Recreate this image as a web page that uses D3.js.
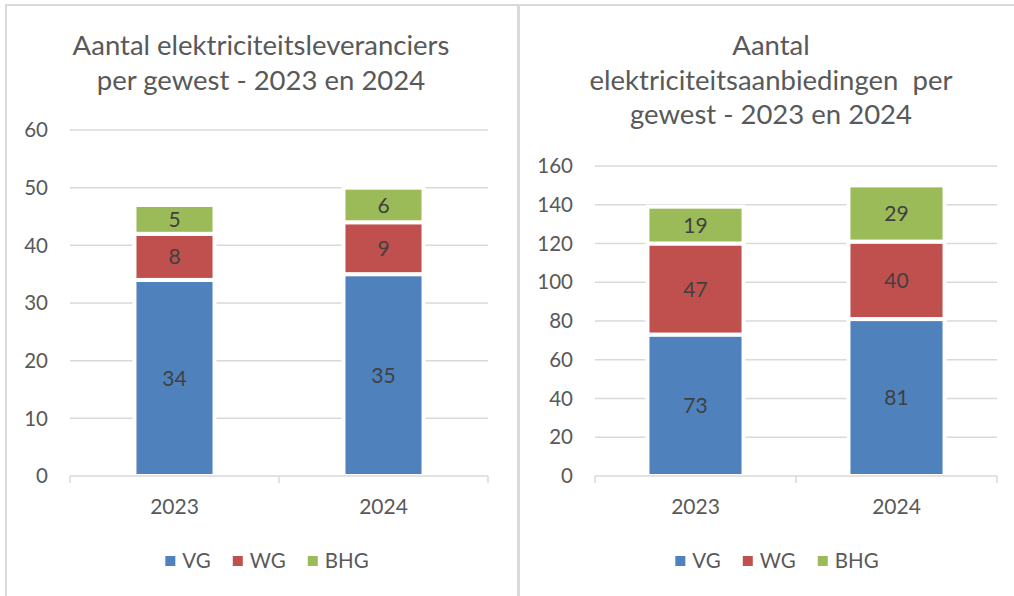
<html>
<head>
<meta charset="utf-8">
<script src="https://d3js.org/d3.v7.min.js"></script>
<style>
body { margin: 0; background: #fff; }
svg text { font-family: Lato, "Open Sans", sans-serif; }
</style>
</head>
<body>
<svg id="chart" width="1014" height="596"></svg>
<script>
// data
var years = ["2023", "2024"];
var regions = ["VG", "WG", "BHG"];
var colors = ["#4f81bd", "#c0504d", "#9bbb59"];

var supplierVG = [34, 35];
var supplierWG = [8, 9];
var supplierBHG = [5, 6];
var supplierTicks = [0, 10, 20, 30, 40, 50, 60];

var offerVG = [73, 81];
var offerWG = [47, 40];
var offerBHG = [19, 29];
var offerTicks = [0, 20, 40, 60, 80, 100, 120, 140, 160];

var svg = d3.select("#chart");

function drawPanel(p) {
  var g = svg.append("g");

  // panel border
  g.append("rect")
    .attr("x", p.box[0]).attr("y", p.box[1])
    .attr("width", p.box[2]).attr("height", p.box[3])
    .attr("fill", "#fff").attr("stroke", "#d9d9d9").attr("stroke-width", 2);

  // title
  g.append("text")
    .attr("x", p.titleX).attr("y", p.titleY)
    .attr("text-anchor", "middle")
    .attr("fill", "#595959")
    .style("font-size", "27.5px")
    .selectAll("tspan")
    .data(p.title)
    .enter()
    .append("tspan")
    .attr("x", p.titleX)
    .attr("dy", function(d, i) { return i == 0 ? 0 : 34.5; })
    .text(function(d) { return d; });

  var y = d3.scaleLinear().domain([0, p.max]).range([476, p.top]);
  var x = d3.scaleBand().domain(years).range([p.left, p.right]);
  var bw = x.bandwidth() * p.barFrac;

  // gridlines + tick labels
  g.selectAll(".grid")
    .data(p.ticks.filter(function(d) { return d > 0; }))
    .enter()
    .append("line")
    .attr("x1", p.left).attr("x2", p.right)
    .attr("y1", function(d) { return y(d); })
    .attr("y2", function(d) { return y(d); })
    .attr("stroke", "#d9d9d9").attr("stroke-width", 1.5);

  g.selectAll(".tick")
    .data(p.ticks)
    .enter()
    .append("text")
    .attr("x", p.left - 22)
    .attr("y", function(d) { return y(d); })
    .attr("dy", "0.35em")
    .attr("text-anchor", "end")
    .attr("fill", "#595959")
    .style("font-size", "20.5px")
    .text(function(d) { return d; });

  // stacked bars
  var rows = years.map(function(yr, i) {
    return { year: yr, VG: p.vg[i], WG: p.wg[i], BHG: p.bhg[i] };
  });
  var stack = d3.stack().keys(regions)(rows);

  stack.forEach(function(s, k) {
    var sg = g.append("g");
    sg.selectAll("rect")
      .data(s)
      .enter()
      .append("rect")
      .attr("x", function(d) { return x(d.data.year) + (x.bandwidth() - bw) / 2; })
      .attr("width", bw)
      .attr("y", function(d) { return y(d[1]); })
      .attr("height", function(d) { return y(d[0]) - y(d[1]); })
      .attr("fill", colors[k])
      .attr("stroke", "#fff").attr("stroke-width", 4);
    sg.selectAll("text")
      .data(s)
      .enter()
      .append("text")
      .attr("x", function(d) { return x(d.data.year) + x.bandwidth() / 2; })
      .attr("y", function(d) { return y((d[0] + d[1]) / 2); })
      .attr("dy", "0.36em")
      .attr("text-anchor", "middle")
      .attr("fill", "#404040")
      .style("font-size", "21px")
      .text(function(d) { return d[1] - d[0]; });
  });

  // category axis
  g.append("line")
    .attr("x1", p.left).attr("x2", p.right)
    .attr("y1", y(0)).attr("y2", y(0))
    .attr("stroke", "#d9d9d9").attr("stroke-width", 1.5);
  var edges = [p.left].concat(years.map(function(d) { return x(d) + x.bandwidth(); }));
  g.selectAll(".xtick")
    .data(edges)
    .enter()
    .append("line")
    .attr("x1", function(d) { return d; }).attr("x2", function(d) { return d; })
    .attr("y1", y(0)).attr("y2", y(0) + 7)
    .attr("stroke", "#d9d9d9").attr("stroke-width", 1.5);
  g.selectAll(".xlabel")
    .data(years)
    .enter()
    .append("text")
    .attr("x", function(d) { return x(d) + x.bandwidth() / 2; })
    .attr("y", 514)
    .attr("text-anchor", "middle")
    .attr("fill", "#595959")
    .style("font-size", "21px")
    .text(function(d) { return d; });

  // legend
  var lg = g.append("g");
  var pos = 0;
  regions.forEach(function(r, i) {
    var item = lg.append("g").attr("transform", "translate(" + pos + ",0)");
    item.append("rect")
      .attr("x", 0).attr("y", 556)
      .attr("width", 10).attr("height", 10)
      .attr("fill", colors[i]);
    var t = item.append("text")
      .attr("x", 17).attr("y", 568)
      .attr("fill", "#595959")
      .style("font-size", "20.5px")
      .text(r);
    pos += 17 + t.node().getComputedTextLength() + 22;
  });
  var lw = pos - 22;
  lg.attr("transform", "translate(" + (p.legendX - lw / 2) + ",0)");
}

drawPanel({
  box: [6, 5, 512, 600],
  title: ["Aantal elektriciteitsleveranciers", "per gewest - 2023 en 2024"],
  titleX: 261, titleY: 55,
  left: 70, right: 488, top: 130, max: 60, ticks: supplierTicks,
  barFrac: 0.383,
  vg: supplierVG, wg: supplierWG, bhg: supplierBHG,
  legendX: 267
});

drawPanel({
  box: [519, 5, 510, 600],
  title: ["Aantal", "elektriciteitsaanbiedingen\u00a0 per", "gewest - 2023 en 2024"],
  titleX: 771, titleY: 55,
  left: 595, right: 997, top: 166, max: 160, ticks: offerTicks,
  barFrac: 0.478,
  vg: offerVG, wg: offerWG, bhg: offerBHG,
  legendX: 777
});
</script>
</body>
</html>
